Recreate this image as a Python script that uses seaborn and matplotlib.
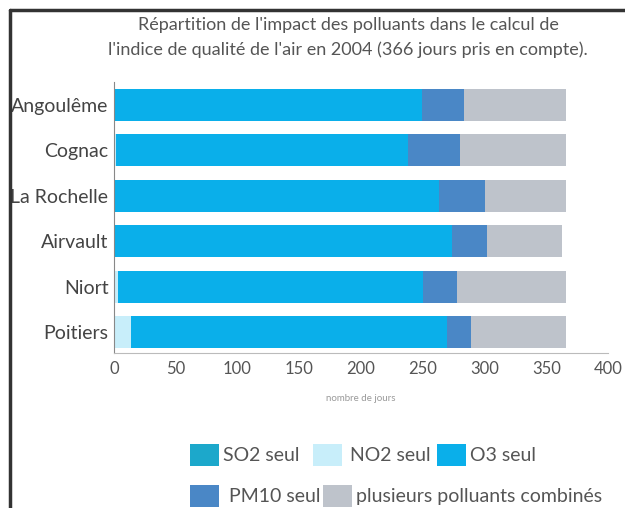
import matplotlib
matplotlib.use("Agg")
import matplotlib.pyplot as plt
from matplotlib.patches import Patch
from matplotlib.lines import Line2D
import seaborn as sns
import pandas as pd
import numpy as np

cities = ["Angoulême", "Cognac", "La Rochelle", "Airvault", "Niort", "Poitiers"]
so2 = [0, 0, 0, 0, 0, 0]
no2 = [0, 2, 1, 0, 3, 14]
o3 = [249, 236, 262, 274, 247, 256]
pm10 = [34, 42, 37, 28, 28, 19]
combines = [83, 86, 66, 61, 88, 77]
series_names = ["SO2 seul", "NO2 seul", "O3 seul", "PM10 seul", "plusieurs polluants combinés"]
xticks = [0, 50, 100, 150, 200, 250, 300, 350, 400]
title1 = "Répartition de l'impact des polluants dans le calcul de"
title2 = "l'indice de qualité de l'air en 2004 (366 jours pris en compte)."
xlabel = "nombre de jours"

colors = ["#1ca8cb", "#c8eefa", "#0aafea", "#4a87c6", "#bec3cb"]

sns.set_theme(style="white")
FAM = ["Lato", "DejaVu Sans"]
plt.rcParams["font.family"] = FAM

df = pd.DataFrame({"city": cities, "so2": so2, "no2": no2, "o3": o3,
                   "pm10": pm10, "comb": combines})
cols = ["so2", "no2", "o3", "pm10", "comb"]
cum = df[cols].cumsum(axis=1)
for c in cols:
    df["cum_" + c] = cum[c]

W, H = 625, 508
fig = plt.figure(figsize=(W / 100, H / 100), dpi=100)
fig.patch.set_facecolor("white")
ax = fig.add_axes([114 / W, 1 - 353 / H, (608 - 114) / W, (353 - 82) / H])

for c, col in reversed(list(zip(cols, colors))):
    sns.barplot(data=df, y="city", x="cum_" + c, orient="h", color=col,
                saturation=1, width=0.7, ax=ax, order=cities, linewidth=0)

ax.set_xlim(0, 400)
ax.set_ylim(5.46, -0.5)
ax.set_xticks(xticks)
ax.set_xticklabels([str(t) for t in xticks], fontsize=12, color="#555555")
ax.set_yticks(range(len(cities)))
ax.set_yticklabels(cities, fontsize=14, color="#444444")
ax.set_ylabel("")
ax.set_xlabel(xlabel, fontsize=7, color="#999999", labelpad=12)
for s in ["top", "right"]:
    ax.spines[s].set_visible(False)
ax.spines["left"].set_color("#888888")
ax.spines["left"].set_linewidth(0.8)
ax.spines["bottom"].set_color("#bbbbbb")
ax.spines["bottom"].set_linewidth(0.8)
ax.tick_params(axis="y", length=3, color="#d8b8a0", pad=1)
ax.tick_params(axis="x", length=3, direction="in", color="#bbbbbb", pad=6)

fig.text(348 / W, 1 - 25 / H, title1, ha="center", va="center", fontsize=13, color="#555555")
fig.text(348 / W, 1 - 50 / H, title2, ha="center", va="center", fontsize=13, color="#555555")

# legend: two rows, flow layout
entries = [(0, 190, 455, 0.2), (1, 313, 455, 0.4), (2, 437, 455, 0.2),
           (3, 190, 496, 0.5), (4, 323, 496, 0.2)]
for idx, x, y, pad in entries:
    h = Patch(facecolor=colors[idx], edgecolor="none")
    fig.legend(handles=[h], labels=[series_names[idx]], loc="center left",
               bbox_to_anchor=(x / W, 1 - y / H), frameon=False, borderpad=0,
               borderaxespad=0, handlelength=1.5, handleheight=1.35,
               handletextpad=pad, fontsize=14, labelcolor="#555555")

# outer frame of the original picture
fig.add_artist(Line2D([10 / W, 10 / W], [0, 1 - 10 / H], color="#333333", lw=2.5,
                      transform=fig.transFigure))
fig.add_artist(Line2D([10 / W, 1], [1 - 10 / H, 1 - 10 / H], color="#333333", lw=2.5,
                      transform=fig.transFigure))

fig.savefig("out.png", dpi=100)
